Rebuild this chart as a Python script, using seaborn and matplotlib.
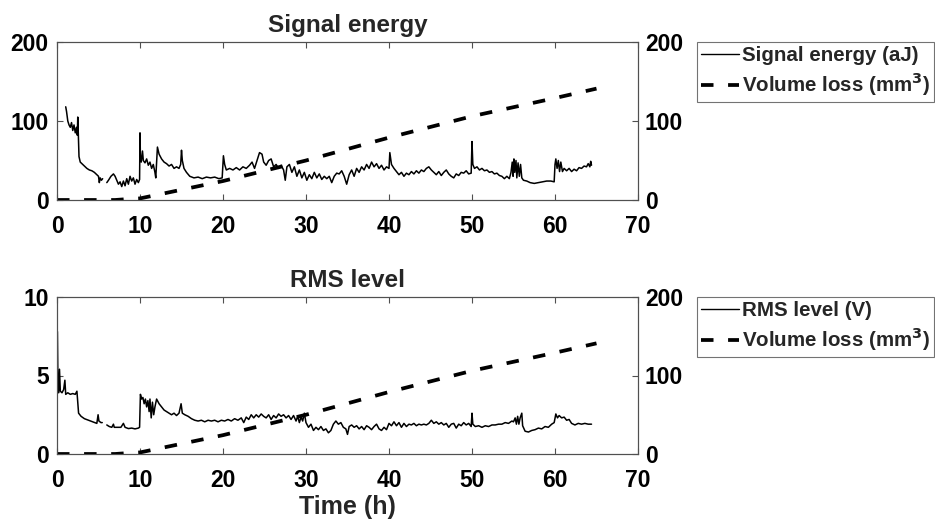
import numpy as np
import pandas as pd
import matplotlib
matplotlib.use("Agg")
import matplotlib.pyplot as plt
from matplotlib.lines import Line2D
import seaborn as sns

nan = float("nan")

# ---------------- data ----------------
energy_time = [1.05, 1.15, 1.3, 1.45, 1.6, 1.75, 1.9, 2.05, 2.2, 2.35, 2.45, 2.5, 2.55, 2.65, 2.8, 3.0, 3.3, 3.6, 3.9,
               4.2, 4.5, 4.8, 5.0, 5.1, 5.2, 5.35, 5.5, 5.7,
               6.0, 6.2, 6.5, 6.8, 7.0, 7.2, 7.4, 7.6, 7.8, 8.0, 8.2, 8.4, 8.6, 8.8, 9.0, 9.2, 9.4, 9.6, 9.8, 9.95,
               10.0, 10.05, 10.15, 10.3, 10.4, 10.6, 10.8, 11.0, 11.2, 11.4, 11.6, 11.8, 11.9, 12.1, 12.3, 12.6,
               12.9, 13.2, 13.5, 13.8, 14.1, 14.4, 14.7, 14.9, 15.0, 15.1, 15.3, 15.6, 16.0, 16.5, 17.0, 17.5,
               18.0, 18.5, 19.0, 19.5, 19.9, 20.05, 20.2, 20.4, 20.8, 21.2, 21.6, 22.0, 22.4, 22.8, 23.2, 23.5,
               23.8, 24.1, 24.4, 24.7, 24.9, 25.2, 25.5, 25.8, 26.1, 26.4, 26.7, 27.0, 27.3, 27.5, 27.7, 28.0,
               28.3, 28.6, 28.9, 29.2, 29.5, 29.8, 30.1, 30.4, 30.7, 31.0, 31.3, 31.6, 31.9, 32.2, 32.5, 32.8,
               33.1, 33.4, 33.7, 34.0, 34.3, 34.6, 34.9, 35.2, 35.5, 35.8, 36.1, 36.4, 36.7, 37.0, 37.3, 37.6,
               37.9, 38.2, 38.5, 38.8, 39.1, 39.4, 39.7, 40.0, 40.1, 40.3, 40.6, 40.9, 41.2, 41.5, 41.8, 42.1,
               42.4, 42.7, 43.0, 43.3, 43.6, 43.9, 44.2, 44.5, 44.8, 45.1, 45.4, 45.7, 46.0, 46.3, 46.6, 46.9,
               47.2, 47.5, 47.8, 48.1, 48.4, 48.7, 49.0, 49.3, 49.6, 49.9, 50.0, 50.1, 50.3, 50.6, 50.9, 51.2,
               51.5, 51.8, 52.1, 52.4, 52.7, 53.0, 53.3, 53.6, 53.9, 54.2, 54.5, 54.7, 54.85, 54.95, 55.05, 55.15,
               55.3, 55.4, 55.55, 55.7, 55.85, 56.0, 56.2, 56.6, 57.0, 57.5, 58.0, 58.5, 59.0, 59.5, 59.9, 60.0,
               60.1, 60.25, 60.4, 60.55, 60.7, 60.9, 61.1, 61.4, 61.7, 62.0, 62.3, 62.6, 62.9, 63.2, 63.5, 63.8,
               64.0, 64.2, 64.3, 64.4]
energy_value = [118, 112, 100, 95, 92, 98, 88, 95, 85, 92, 82, 105, 90, 55, 48, 46, 43, 40, 38,
                37, 35, 32, 30, 22, 28, 25, 27, nan,
                22, 25, 30, 33, 30, 25, 20, 23, 17, 24, 18, 27, 20, 30, 24, 28, 20, 26, 22, 26,
                85, 55, 48, 62, 50, 47, 52, 44, 48, 40, 45, 35, 28, 67, 58, 52,
                48, 46, 43, 45, 40, 42, 40, 45, 63, 50, 40, 35, 30, 28, 29, 27,
                29, 28, 29, 27, 28, 56, 45, 38, 40, 38, 41, 38, 42, 40, 44, 48,
                40, 50, 60, 58, 48, 44, 50, 52, 42, 45, 40, 44, 38, 25, 42, 45,
                35, 42, 30, 38, 28, 35, 25, 32, 27, 35, 28, 33, 26, 30, 27, 30,
                22, 30, 34, 33, 37, 30, 20, 32, 38, 30, 40, 35, 42, 38, 45, 40,
                48, 42, 46, 40, 44, 38, 42, 40, 60, 45, 40, 36, 32, 35, 30, 34,
                32, 36, 33, 37, 34, 38, 36, 40, 42, 38, 35, 32, 36, 31, 35, 38,
                33, 30, 28, 33, 31, 35, 34, 37, 33, 34, 74, 45, 40, 42, 38, 40,
                37, 38, 35, 36, 33, 34, 31, 30, 27, 30, 27, 35, 48, 30, 52, 35,
                50, 28, 47, 30, 45, 28, 25, 24, 22, 21, 22, 23, 24, 24, 23, 45,
                52, 40, 50, 36, 48, 36, 40, 37, 40, 36, 39, 37, 41, 40, 43, 42,
                46, 42, 49, 44]

rms_time = [0.05, 0.12, 0.2, 0.3, 0.4, 0.6, 0.8, 0.95, 1.05, 1.3, 1.6, 1.9, 2.2, 2.4, 2.5, 2.6, 2.9, 3.3, 3.8,
            4.3, 4.8, 4.95, 5.05, 5.3, 5.45, 5.7,
            6.0, 6.3, 6.6, 6.8, 6.9, 7.3, 7.7, 8.0, 8.2, 8.6, 9.0, 9.4, 9.8, 9.95, 10.05, 10.2, 10.35, 10.5,
            10.65, 10.8, 10.95, 11.1, 11.2, 11.35, 11.5, 11.65, 11.8, 12.0, 12.3, 12.6, 12.9, 13.2, 13.5, 13.8,
            14.1, 14.4, 14.7, 14.95, 15.1, 15.4, 15.8, 16.2, 16.6, 17.0, 17.4, 17.8, 18.2, 18.6, 19.0, 19.4,
            19.8, 20.2, 20.6, 21.0, 21.4, 21.8, 22.2, 22.5, 22.8, 23.1, 23.4, 23.7, 24.0, 24.3, 24.6, 24.9,
            25.2, 25.5, 25.8, 26.1, 26.4, 26.7, 27.0, 27.3, 27.6, 27.9, 28.2, 28.5, 28.8, 29.0, 29.2, 29.4,
            29.6, 29.8, 30.0, 30.3, 30.6, 30.9, 31.2, 31.5, 31.8, 32.1, 32.4, 32.7, 33.0, 33.3, 33.6, 33.9,
            34.2, 34.5, 34.8, 35.0, 35.2, 35.5, 35.8, 36.1, 36.4, 36.7, 37.0, 37.3, 37.6, 37.9, 38.2, 38.5,
            38.8, 39.1, 39.4, 39.7, 40.0, 40.3, 40.6, 40.9, 41.2, 41.5, 41.8, 42.1, 42.4, 42.7, 43.0, 43.3,
            43.6, 43.9, 44.2, 44.5, 44.8, 45.1, 45.4, 45.7, 46.0, 46.3, 46.6, 46.9, 47.2, 47.5, 47.8, 48.1,
            48.4, 48.7, 49.0, 49.3, 49.6, 49.9, 50.0, 50.1, 50.4, 50.8, 51.2, 51.6, 52.0, 52.4, 52.8, 53.2,
            53.6, 54.0, 54.4, 54.8, 55.0, 55.2, 55.35, 55.5, 55.65, 55.8, 56.0, 56.1, 56.4, 56.8, 57.2, 57.6,
            58.0, 58.4, 58.8, 59.2, 59.6, 59.9, 60.1, 60.3, 60.5, 60.8, 61.1, 61.4, 61.7, 62.0, 62.4, 62.8,
            63.2, 63.6, 64.0, 64.4]
rms_value = [7.8, 4.0, 3.9, 5.4, 4.0, 3.9, 4.1, 4.7, 3.8, 3.9, 3.8, 3.85, 3.8, 4.0, 3.3, 2.6, 2.4, 2.25, 2.15,
             2.05, 1.95, 2.5, 2.1, 2.0, 2.0, nan,
             1.85, 1.75, 1.7, 1.9, 1.7, 1.7, 1.7, 1.95, 1.7, 1.62, 1.65, 1.6, 1.65, 1.7, 3.8, 3.5, 3.6, 3.2,
             3.5, 3.0, 3.4, 2.7, 3.5, 2.3, 3.3, 2.5, 3.0, 3.5, 3.2, 3.0, 2.8, 2.7, 2.6, 2.5,
             2.6, 2.45, 2.6, 3.2, 2.6, 2.5, 2.4, 2.25, 2.15, 2.1, 2.15, 2.05, 2.15, 2.1, 2.15, 2.05,
             2.15, 2.1, 2.2, 2.1, 2.25, 2.15, 2.3, 2.0, 2.35, 2.2, 2.5, 2.3, 2.5, 2.35, 2.55, 2.4,
             2.3, 2.5, 2.2, 2.45, 2.3, 2.55, 2.4, 2.5, 2.3, 2.45, 2.2, 2.45, 2.1, 2.4, 2.0, 2.35,
             2.1, 2.6, 2.0, 1.7, 1.9, 1.5, 1.7, 1.55, 1.75, 1.5, 1.6, 1.35, 1.5, 1.9, 2.1, 1.9,
             2.0, 1.7, 1.6, 1.25, 1.75, 1.85, 1.7, 1.8, 1.6, 1.75, 1.55, 1.8, 1.7, 1.55, 1.75, 1.9,
             1.6, 1.5, 1.7, 1.55, 1.95, 1.8, 2.05, 1.8, 2.0, 1.7, 1.95, 1.75, 1.9, 1.85, 1.95, 1.8,
             1.9, 1.85, 1.9, 1.85, 1.95, 2.15, 1.95, 2.05, 1.9, 2.0, 1.85, 1.95, 1.7, 1.9, 1.95, 1.65,
             1.9, 1.8, 2.0, 1.85, 1.95, 1.75, 2.6, 1.9, 1.75, 1.8, 1.7, 1.8, 1.75, 1.85, 1.85, 1.9,
             1.9, 2.0, 1.95, 2.1, 2.05, 2.3, 1.9, 2.4, 1.9, 2.3, 2.6, 1.8, 1.45, 1.4, 1.5, 1.55,
             1.65, 1.6, 1.75, 1.7, 1.9, 2.0, 2.55, 2.3, 2.45, 2.3, 2.35, 2.15, 2.2, 1.95, 1.85, 1.95,
             1.9, 1.95, 1.9, 1.9]

volume_time = [0, 7, 9, 10, 20, 30, 40, 50, 60, 65]
volume_value = [0, 0, 1.5, 2, 24, 50, 79, 106, 129, 141]

titles = ["Signal energy", "RMS level"]
signal_labels = ["Signal energy (aJ)", "RMS level (V)"]
volume_label = r"Volume loss (mm$^\mathbf{3}$)"
xlabel = "Time (h)"
x_ticks = [0, 10, 20, 30, 40, 50, 60, 70]
left_ticks = [[0, 100, 200], [0, 5, 10]]
right_ticks = [0, 100, 200]

# ---------------- style ----------------
sns.set_theme(style="white")
plt.rcParams["font.family"] = ["Liberation Sans", "DejaVu Sans"]
plt.rcParams["font.weight"] = "bold"
plt.rcParams["mathtext.default"] = "bf"
plt.rcParams["lines.scale_dashes"] = False
spine_col = "#505050"
TICK_FS = 16.5


def make_df(t, v):
    df = pd.DataFrame({"t": t, "v": v})
    df["seg"] = df["v"].isna().cumsum()
    return df.dropna()


fig = plt.figure(figsize=(9.35, 5.26), dpi=100)
W, H = 935, 526
ax_boxes = [(57, 42, 638, 200), (57, 297, 638, 454)]
legend_tops = [42, 297]
datasets = [make_df(energy_time, energy_value), make_df(rms_time, rms_value)]
vol_df = pd.DataFrame({"t": volume_time, "v": volume_value})

for i in range(2):
    x0, y0, x1, y1 = ax_boxes[i]
    ax = fig.add_axes([x0 / W, 1 - y1 / H, (x1 - x0) / W, (y1 - y0) / H])
    ax2 = ax.twinx()

    sns.lineplot(data=datasets[i], x="t", y="v", units="seg", estimator=None,
                 color="black", lw=1.1, ax=ax, legend=False)
    sns.lineplot(data=vol_df, x="t", y="v", color="black", lw=2.7,
                 ax=ax2, legend=False)
    for ln in ax2.get_lines():
        ln.set_dashes([9, 10.5])
        ln.set_dash_capstyle("butt")

    ax.set_xlim(0, 70)
    ax.set_ylim(left_ticks[i][0], left_ticks[i][-1])
    ax.set_yticks(left_ticks[i])
    ax.set_xticks(x_ticks)
    ax2.set_ylim(0, 200)
    ax2.set_yticks(right_ticks)
    ax.set_ylabel("")
    ax2.set_ylabel("")
    ax.set_xlabel("")

    for a in (ax, ax2):
        for s in a.spines.values():
            s.set_color(spine_col)
            s.set_linewidth(0.8)
    ax.tick_params(axis="x", direction="in", length=4, width=0.8, color=spine_col,
                   top=True, bottom=True, labelsize=TICK_FS, pad=11, labelcolor="black")
    ax.tick_params(axis="y", direction="in", length=4, width=0.8, color=spine_col,
                   left=True, right=False, labelsize=TICK_FS, pad=6, labelcolor="black")
    ax2.tick_params(axis="y", direction="in", length=4, width=0.8, color=spine_col,
                    right=True, labelsize=TICK_FS, pad=5, labelcolor="black")
    for lab in ax.get_xticklabels() + ax.get_yticklabels() + ax2.get_yticklabels():
        lab.set_fontweight("bold")

    ax.set_title(titles[i], fontsize=17.5, fontweight="bold", pad=7)

    handles = [Line2D([], [], color="black", lw=1.0),
               Line2D([], [], color="black", lw=2.7, dashes=[9, 10.5])]
    leg = fig.legend(handles, [signal_labels[i], volume_label],
                     loc="upper left", bbox_to_anchor=(697 / W, 1 - legend_tops[i] / H),
                     bbox_transform=fig.transFigure, frameon=True, fancybox=False,
                     fontsize=14.8, handlelength=1.85, handletextpad=0.12,
                     borderpad=0.2, labelspacing=0.25, borderaxespad=0)
    leg.get_frame().set_edgecolor(spine_col)
    leg.get_frame().set_linewidth(0.8)
    for txt in leg.get_texts():
        txt.set_fontweight("bold")

    if i == 1:
        ax.set_xlabel(xlabel, fontsize=18, fontweight="bold", labelpad=2)

fig.savefig("out.png", dpi=100)
